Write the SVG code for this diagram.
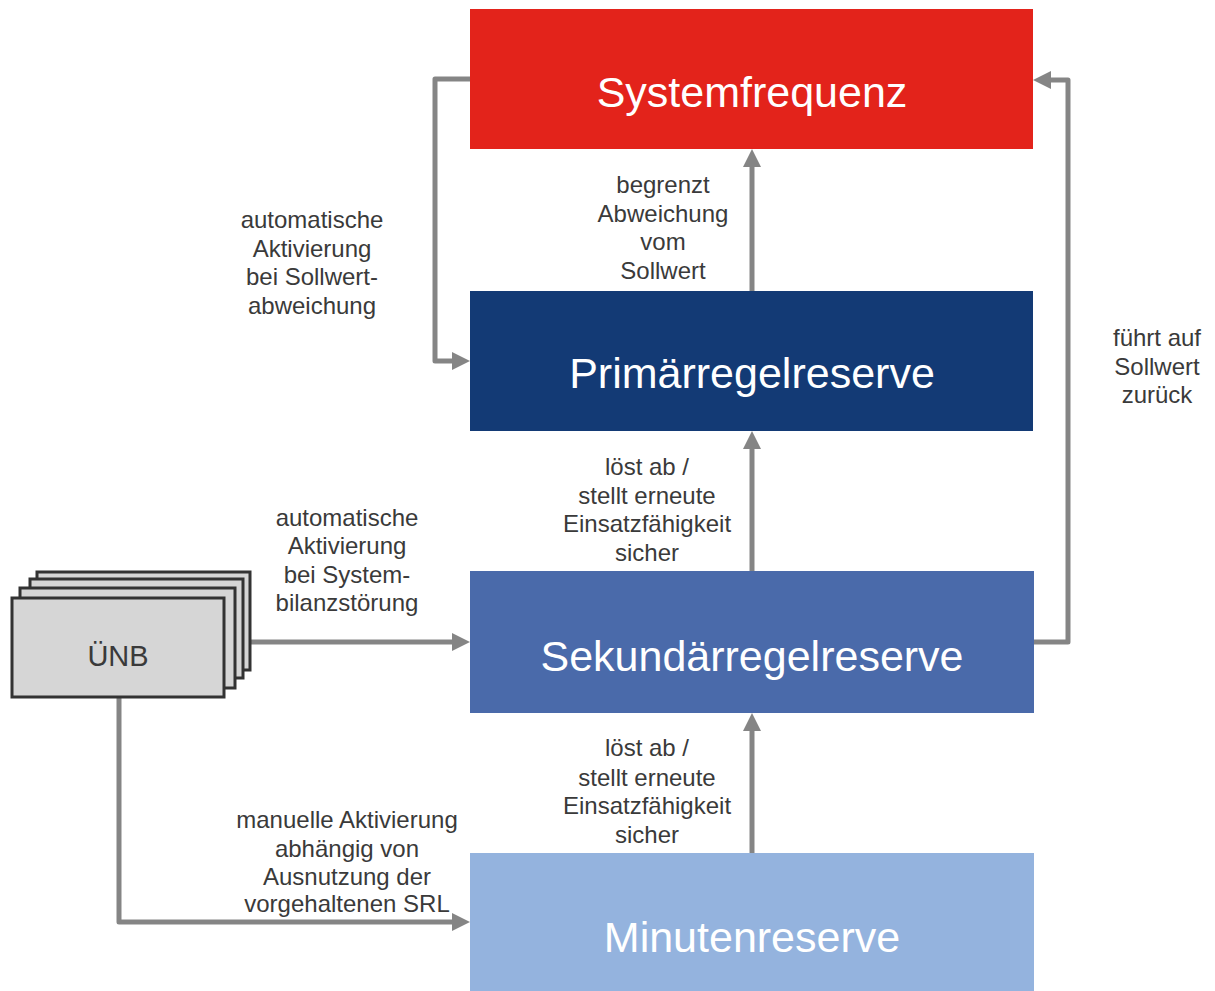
<svg xmlns="http://www.w3.org/2000/svg" width="1215" height="991" viewBox="0 0 1215 991">
<style>
.box{stroke:none}
.title{font-family:"Liberation Sans",Arial,sans-serif;font-size:43px;fill:#ffffff;text-anchor:middle}
.lbl{font-family:"Liberation Sans",Arial,sans-serif;font-size:24px;fill:#3a3a3a;text-anchor:middle}
.conn{fill:none;stroke:#858585;stroke-width:5;stroke-linejoin:round}
.unb{fill:#d6d6d6;stroke:#333333;stroke-width:3}
</style>
<defs>
<marker id="arr" markerUnits="userSpaceOnUse" markerWidth="18" markerHeight="18" refX="10" refY="9" orient="auto">
<path d="M0,0 L18,9 L0,18 z" fill="#858585"/>
</marker>
</defs>
<rect width="1215" height="991" fill="#ffffff"/>
<g id="connectors">
<path class="conn" d="M470,79 H435 V361 H462" marker-end="url(#arr)"/>
<path class="conn" d="M1034,642 H1068 V80 H1041" marker-end="url(#arr)"/>
<path class="conn" d="M250,642 H462" marker-end="url(#arr)"/>
<path class="conn" d="M119,697 V922 H462" marker-end="url(#arr)"/>
<path class="conn" d="M752,291 V157" marker-end="url(#arr)"/>
<path class="conn" d="M752,571 V439" marker-end="url(#arr)"/>
<path class="conn" d="M752,853 V721" marker-end="url(#arr)"/>
</g>
<g id="systemfrequenz">
<rect class="box" x="470" y="9" width="563" height="140" fill="#e3231b"/>
<text class="title" x="752" y="107">Systemfrequenz</text>
</g>
<g id="primaerregelreserve">
<rect class="box" x="470" y="291" width="563" height="140" fill="#133a75"/>
<text class="title" x="752" y="388">Primärregelreserve</text>
</g>
<g id="sekundaerregelreserve">
<rect class="box" x="470" y="571" width="564" height="142" fill="#4a6aaa"/>
<text class="title" x="752" y="671">Sekundärregelreserve</text>
</g>
<g id="minutenreserve">
<rect class="box" x="470" y="853" width="564" height="138" fill="#94b3de"/>
<text class="title" x="752" y="952">Minutenreserve</text>
</g>
<g id="unb">
<rect class="unb" x="37" y="572" width="213" height="98"/>
<rect class="unb" x="30" y="579" width="213" height="99"/>
<rect class="unb" x="20" y="588" width="215" height="100"/>
<rect class="unb" x="12" y="598" width="212" height="99"/>
<text x="118" y="666" style="font-family:'Liberation Sans',Arial,sans-serif;font-size:29px;fill:#3a3a3a;text-anchor:middle">ÜNB</text>
</g>
<g id="labels">
<text class="lbl" x="312" y="228">automatische</text>
<text class="lbl" x="312" y="257">Aktivierung</text>
<text class="lbl" x="312" y="285">bei Sollwert-</text>
<text class="lbl" x="312" y="314">abweichung</text>
<text class="lbl" x="663" y="193">begrenzt</text>
<text class="lbl" x="663" y="222">Abweichung</text>
<text class="lbl" x="663" y="250">vom</text>
<text class="lbl" x="663" y="279">Sollwert</text>
<text class="lbl" x="1157" y="346">führt auf</text>
<text class="lbl" x="1157" y="375">Sollwert</text>
<text class="lbl" x="1157" y="403">zurück</text>
<text class="lbl" x="647" y="475">löst ab /</text>
<text class="lbl" x="647" y="504">stellt erneute</text>
<text class="lbl" x="647" y="532">Einsatzfähigkeit</text>
<text class="lbl" x="647" y="561">sicher</text>
<text class="lbl" x="347" y="526">automatische</text>
<text class="lbl" x="347" y="554">Aktivierung</text>
<text class="lbl" x="347" y="583">bei System-</text>
<text class="lbl" x="347" y="611">bilanzstörung</text>
<text class="lbl" x="647" y="756">löst ab /</text>
<text class="lbl" x="647" y="786">stellt erneute</text>
<text class="lbl" x="647" y="814">Einsatzfähigkeit</text>
<text class="lbl" x="647" y="843">sicher</text>
<text class="lbl" x="347" y="828">manuelle Aktivierung</text>
<text class="lbl" x="347" y="857">abhängig von</text>
<text class="lbl" x="347" y="885">Ausnutzung der</text>
<text class="lbl" x="347" y="912">vorgehaltenen SRL</text>
</g>
</svg>
